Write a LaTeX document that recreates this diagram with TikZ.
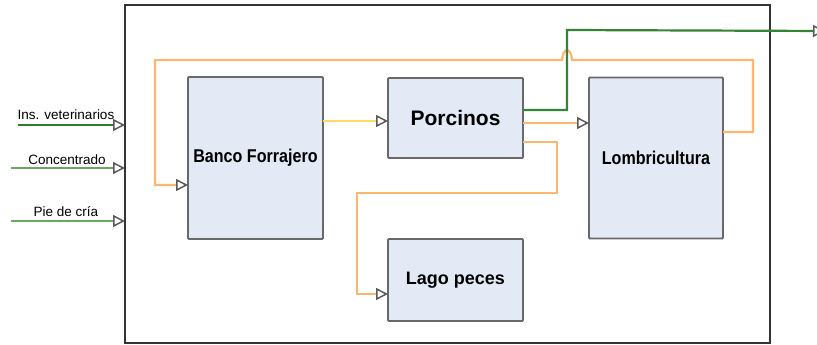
\documentclass[tikz,border=0pt]{standalone}
\usepackage{fontspec}
\setmainfont{Liberation Sans}
\newfontfamily\boxfont[FakeStretch=0.87]{Liberation Sans}
\usetikzlibrary{arrows.meta}
\definecolor{boxfill}{RGB}{227,234,246}
\definecolor{boxline}{RGB}{105,105,105}
\definecolor{orng}{RGB}{252,182,112}
\definecolor{yel}{RGB}{255,218,100}
\definecolor{dgreen}{RGB}{45,125,45}
\definecolor{lgreen}{RGB}{105,168,95}
\definecolor{tipgray}{RGB}{90,90,90}
\tikzset{
  blk/.style={draw=boxline, fill=boxfill, line width=1.8pt, rounded corners=1pt, inner sep=0pt, outer sep=0pt, font=\boxfont\bfseries\fontsize{18.5}{20}\selectfont},
  frm/.style={draw=black!80, line width=1.3pt, inner sep=0pt, outer sep=0pt},
  arr/.style={-{Triangle[open, length=12pt, width=12pt, line width=1.5pt, color=tipgray]}},
  conn/.style={line width=2.2pt},
  inlbl/.style={font=\fontsize{13.5}{14}\selectfont, inner sep=0pt}
}
\begin{document}
\begin{tikzpicture}[x=1pt, y=-1pt]
\useasboundingbox (0,0) rectangle (817,345);
\node[frm, minimum width=645pt, minimum height=338pt] (frame) at (447.5,174) {};
\node[blk, minimum width=135pt, minimum height=162pt] (banco) at (255.5,158) {Banco Forrajero};
\node[blk, minimum width=135pt, minimum height=80pt, font=\bfseries\fontsize{21}{24}\selectfont] (porc) at (455.5,118) {Porcinos};
\node[blk, minimum width=134pt, minimum height=161pt] (lomb) at (656,158) {Lombricultura};
\node[blk, minimum width=135pt, minimum height=82pt, font=\bfseries\fontsize{18}{20}\selectfont] (lago) at (455.5,280) {Lago peces};
% internal flows
\draw[conn, yel, arr] (banco.east |- 0,121) -- (porc.west |- 0,121);
\draw[conn, orng, arr] (porc.east |- 0,123) -- (lomb.west |- 0,123);
\draw[conn, orng, arr] (porc.east |- 0,142) -- (557,142) -- (557,193) -- (357,193) -- (357,294) -- (lago.west |- 0,294);
\draw[conn, orng, arr] (lomb.east |- 0,132) -- (753,132) -- (753,60) -- (572,60) .. controls (571,47) and (563,47) .. (562,60) -- (155,60) -- (155,185) -- (banco.west |- 0,185);
% output
\coordinate (out) at (825,31);
\draw[conn, dgreen!85!lgreen, arr] (porc.east |- 0,110) -- (567,110) -- (567,30) -- (out);
% inputs
\coordinate (i1) at (18,125);
\coordinate (i2) at (11,168);
\coordinate (i3) at (11,221);
\draw[conn, dgreen, arr] (i1) -- (frame.west |- i1);
\draw[conn, lgreen, arr] (i2) -- (frame.west |- i2);
\draw[conn, lgreen, arr] (i3) -- (frame.west |- i3);
\node[inlbl] (l1) at (66,115) {Ins. veterinarios};
\node[inlbl] (l2) at (67,160) {Concentrado};
\node[inlbl] (l3) at (66,212) {Pie de cría};
\end{tikzpicture}
\end{document}
